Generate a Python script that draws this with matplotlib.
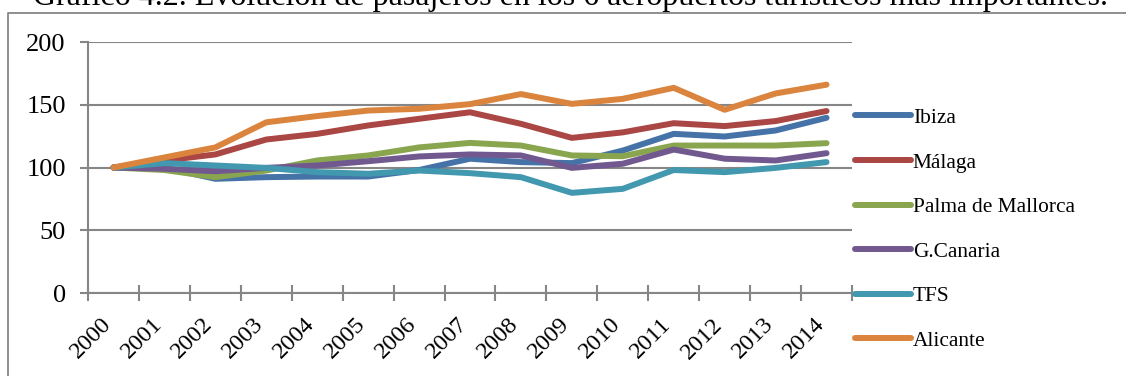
import matplotlib
matplotlib.use("Agg")
import matplotlib.pyplot as plt
import matplotlib.transforms as mtransforms
from matplotlib.lines import Line2D

plt.rcParams['font.family'] = ['Liberation Serif', 'DejaVu Serif']

# Passenger index (2000 = 100) for the six main tourist airports
years = [str(y) for y in range(2000, 2015)]
ibiza = [100, 100, 91, 92.3, 92.8, 92.8, 98, 107, 104.3, 103.5, 113.5, 126.8, 124.7, 129.5, 139.6]
malaga = [100, 105.6, 110.4, 122.3, 126.8, 133.5, 138.8, 144, 134.8, 123.6, 128, 135.3, 133, 137, 145]
palma = [100, 98, 92.3, 97.6, 105.6, 109.6, 116, 119.6, 117.5, 109.6, 109, 117.5, 117.5, 117.5, 119.4]
gcanaria = [100, 99, 97, 99.7, 101.6, 105, 108.8, 110.4, 109.6, 99.7, 103, 114.3, 107, 105.6, 111.4]
tfs = [100, 103.5, 101.6, 99.7, 96.3, 95, 97.6, 95.5, 92.3, 79.8, 83, 98, 96.3, 99.7, 104.3]
alicante = [100, 108, 116, 136, 141, 145.4, 146.8, 150.5, 158.5, 150.7, 154.7, 163.5, 146, 159, 166]

series = [
    ("Ibiza", ibiza, "#4573A7"),
    ("Málaga", malaga, "#AA4643"),
    ("Palma de Mallorca", palma, "#89A54E"),
    ("G.Canaria", gcanaria, "#71588F"),
    ("TFS", tfs, "#4198AF"),
    ("Alicante", alicante, "#DB843D"),
]
yticks = [0, 50, 100, 150, 200]
title = "Gráfico 4.2. Evolución de pasajeros en los 6 aeropuertos turísticos más importantes."

W, H, DPI = 1126, 376, 100
fig = plt.figure(figsize=(W / DPI, H / DPI), dpi=DPI)
fig.patch.set_facecolor("white")

grey = "#868686"
LW = 4.3
ax = fig.add_axes([88 / W, 1 - 293 / H, (852 - 88) / W, (293 - 42) / H])

x = list(range(len(years)))
for name, vals, col in series:
    ax.plot(x, vals, color=col, lw=LW, solid_capstyle="round",
            solid_joinstyle="round", label=name)

ax.set_xlim(-0.5, len(years) - 0.5)
ax.set_ylim(0, 200)
ax.set_yticks(yticks)
ax.set_yticklabels([str(v) for v in yticks], fontsize=19)
ax.yaxis.grid(True, color=grey, lw=1.5)
ax.set_axisbelow(True)

for s in ("top", "right"):
    ax.spines[s].set_visible(False)
for s in ("left", "bottom"):
    ax.spines[s].set_color(grey)
    ax.spines[s].set_linewidth(1.5)

ax.tick_params(axis="y", direction="out", length=6, width=1.5, color=grey, pad=10)

# category labels at centres, tick marks on the boundaries
ax.set_xticks(x)
ax.set_xticklabels(years, fontsize=17.5, rotation=45, ha="right", va="top",
                   rotation_mode="anchor")
ax.set_xticks([i - 0.5 for i in range(len(years) + 1)], minor=True)
ax.tick_params(axis="x", which="major", length=0, pad=15)
ax.tick_params(axis="x", which="minor", direction="inout", length=11, width=1.5, color=grey)
offset = mtransforms.ScaledTranslation(-13 / DPI, 0, fig.dpi_scale_trans)
for lab in ax.get_xticklabels():
    lab.set_transform(lab.get_transform() + offset)

leg = ax.legend(loc="upper left", bbox_to_anchor=(855 / W, 1 - 108 / H),
                bbox_transform=fig.transFigure, frameon=False, fontsize=15.4,
                handlelength=2.6, handletextpad=0.1, labelspacing=1.15,
                borderpad=0, borderaxespad=0)
for h in leg.get_lines():
    h.set_linewidth(LW)
    h.set_solid_capstyle("round")

# chart-area border (left and top edges)
fig.add_artist(Line2D([8 / W, 8 / W, 1.0], [0.0, 1 - 12.7 / H, 1 - 12.7 / H],
                      transform=fig.transFigure, color=grey, lw=1.3))

fig.text(33 / W, 1 - 5 / H, title, fontsize=23, ha="left", va="baseline")

fig.savefig("out.png", dpi=DPI)
